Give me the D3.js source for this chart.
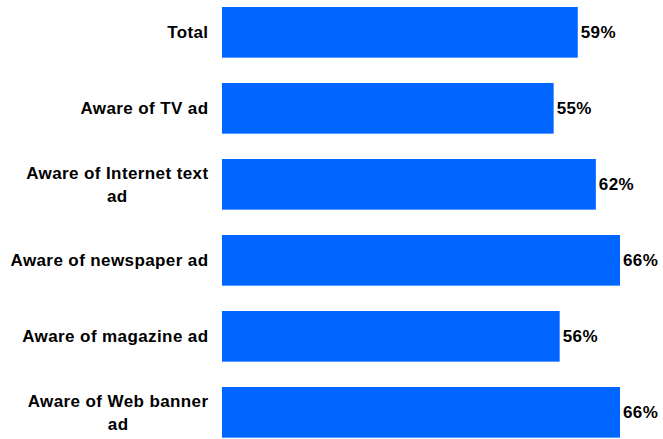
<!DOCTYPE html>
<html>
<head>
<meta charset="utf-8">
<script src="https://cdn.jsdelivr.net/npm/d3@7"></script>
<style>
  html, body { margin: 0; padding: 0; background: #ffffff; }
  svg { display: block; }
  text { font-family: "Liberation Sans", Arial, sans-serif; font-weight: bold; fill: #000; letter-spacing: 0.4px; }
</style>
</head>
<body>
<svg id="chart" width="663" height="439"></svg>
<script>
// Category labels (line breaks mark where the label wraps)
const categories = [
  "Total",
  "Aware of TV ad",
  "Aware of Internet text\nad",
  "Aware of newspaper ad",
  "Aware of magazine ad",
  "Aware of Web banner\nad"
];
// Share of respondents, percent
const values = [59, 55, 62, 66, 56, 66];

const width = 663, height = 439;
const fontSize = 17;
const lineHeight = 23;
const barColor = "#0066FF";

const svg = d3.select("#chart");

const x = d3.scaleLinear()
  .domain([0, 70])
  .range([222, 222 + 70 * 6.03]);

const y = d3.scaleBand()
  .domain(categories)
  .range([-5.67, 450.33])
  .paddingInner(1 / 3)
  .paddingOuter(1 / 6);

const rows = categories.map((c, i) => ({ cat: c, value: values[i] }));

// Bars
svg.append("g")
  .selectAll("rect")
  .data(rows)
  .join("rect")
  .attr("x", x(0))
  .attr("y", d => y(d.cat))
  .attr("width", d => x(d.value) - x(0))
  .attr("height", y.bandwidth())
  .attr("fill", barColor);

// Value labels at the bar ends
svg.append("g")
  .selectAll("text")
  .data(rows)
  .join("text")
  .attr("x", d => x(d.value) + 3)
  .attr("y", d => y(d.cat) + y.bandwidth() / 2)
  .attr("dy", "0.35em")
  .style("font-size", fontSize + "px")
  .text(d => d.value + "%");

// Category labels: block right-aligned, lines centred within the block
const labelRight = 208.5;
const labels = svg.append("g");
rows.forEach(d => {
  const lines = d.cat.split("\n");
  const g = labels.append("g");
  const texts = lines.map(l => g.append("text")
    .style("font-size", fontSize + "px")
    .text(l));
  const maxW = d3.max(texts, t => t.node().getComputedTextLength());
  const cx = labelRight - maxW / 2;
  const cy = y(d.cat) + y.bandwidth() / 2;
  const n = lines.length;
  texts.forEach((t, i) => {
    t.attr("x", cx)
      .attr("text-anchor", "middle")
      .attr("y", cy + (i - (n - 1) / 2) * lineHeight)
      .attr("dy", "0.35em");
  });
});
</script>
</body>
</html>
